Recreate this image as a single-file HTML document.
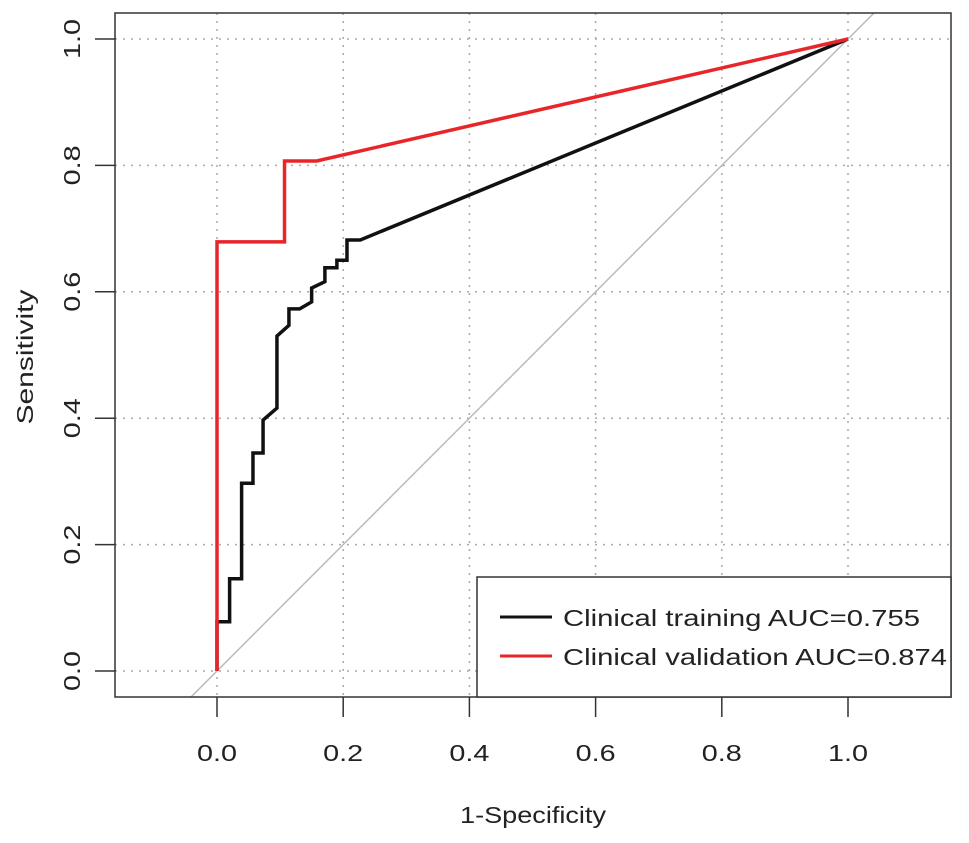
<!DOCTYPE html>
<html><head><meta charset="utf-8"><style>
html,body{margin:0;padding:0;background:#fff;}
svg{display:block;font-family:"Liberation Sans",Arial,sans-serif;}
</style></head><body>
<svg id="chart" width="969" height="843">
<defs><clipPath id="clip"><rect x="115" y="13" width="836" height="684"/></clipPath></defs>
<g id="grid"></g>
<line x1="0" y1="0" x2="0" y2="0" id="diag" stroke="#bbb" stroke-width="1.5" clip-path="url(#clip)"/>
<g id="series"></g>
<rect x="115" y="13" width="836" height="684" fill="none" stroke="#333" stroke-width="1.5"/>
<g id="axes"></g>
<text x="533" y="823" text-anchor="middle" font-size="23" textLength="146" lengthAdjust="spacingAndGlyphs" fill="#222">1-Specificity</text>
<text transform="translate(33,357) rotate(-90)" text-anchor="middle" font-size="23" textLength="135" lengthAdjust="spacingAndGlyphs" fill="#222">Sensitivity</text>
<g>
<rect x="477" y="577" width="474" height="120" fill="#fff" stroke="#333" stroke-width="1.5"/>
<line x1="500" y1="617" x2="552" y2="617" stroke="#111" stroke-width="3"/>
<text x="563" y="626" font-size="23" textLength="357" lengthAdjust="spacingAndGlyphs" fill="#222">Clinical training AUC=0.755</text>
<line x1="500" y1="656" x2="552" y2="656" stroke="#e8262a" stroke-width="3"/>
<text x="563" y="665" font-size="23" textLength="384" lengthAdjust="spacingAndGlyphs" fill="#222">Clinical validation AUC=0.874</text>
</g>
</svg>
<script>
const xTicks=[0,0.2,0.4,0.6,0.8,1.0];
const xTickLabels=["0.0","0.2","0.4","0.6","0.8","1.0"];
const yTicks=[0,0.2,0.4,0.6,0.8,1.0];
const yTickLabels=["0.0","0.2","0.4","0.6","0.8","1.0"];
const trainFpr=[0,0,0.02,0.02,0.039,0.039,0.057,0.057,0.073,0.073,0.095,0.095,0.114,0.114,0.131,0.150,0.150,0.171,0.171,0.19,0.19,0.206,0.206,0.227,1];
const trainTpr=[0,0.078,0.078,0.146,0.146,0.297,0.297,0.345,0.345,0.397,0.416,0.530,0.547,0.573,0.573,0.584,0.606,0.616,0.638,0.638,0.650,0.650,0.682,0.682,1];
const validFpr=[0,0,0.107,0.107,0.158,1];
const validTpr=[0,0.679,0.679,0.807,0.807,1];
const NS="http://www.w3.org/2000/svg";
const X=v=>217+v*631, Y=v=>671-v*632;
function mk(t,a,p){const e=document.createElementNS(NS,t);for(const k in a)e.setAttribute(k,a[k]);p.appendChild(e);return e;}
const grid=document.getElementById('grid'),axes=document.getElementById('axes'),ser=document.getElementById('series');
xTicks.forEach((v,i)=>{
 const g=mk('line',{x1:X(v),x2:X(v),y1:13,y2:697,stroke:'#aaa','stroke-width':1.5,'stroke-dasharray':'2 6'},grid);
 
 
 const t=mk('line',{x1:X(v),x2:X(v),y1:697,y2:717,stroke:'#333','stroke-width':1.5},axes);
 
 
 const l=mk('text',{x:X(v),y:761,'text-anchor':'middle','font-size':23,textLength:40,lengthAdjust:'spacingAndGlyphs',fill:'#222'},axes);
 l.textContent=xTickLabels[i];
 
 
});
yTicks.forEach((v,i)=>{
 const g=mk('line',{x1:115,x2:951,y1:Y(v),y2:Y(v),stroke:'#aaa','stroke-width':1.5,'stroke-dasharray':'2 6'},grid);
 
 
 const t=mk('line',{x1:95,x2:115,y1:Y(v),y2:Y(v),stroke:'#333','stroke-width':1.5},axes);
 
 
 const l=mk('text',{transform:`translate(80,${Y(v)}) rotate(-90)`,'text-anchor':'middle','font-size':23,textLength:40,lengthAdjust:'spacingAndGlyphs',fill:'#222'},axes);
 l.textContent=yTickLabels[i];
 
 
});
const d=document.getElementById('diag');
d.setAttribute('x1',X(-0.2));d.setAttribute('y1',Y(-0.2));d.setAttribute('x2',X(1.2));d.setAttribute('y2',Y(1.2));
function path(xs,ys,c,name){
 const p=mk('polyline',{points:xs.map((v,i)=>X(v)+','+Y(ys[i])).join(' '),fill:'none',stroke:c,'stroke-width':3.5,'stroke-linejoin':'miter'},ser);
 
 
}
path(trainFpr,trainTpr,'#111','training-roc-curve');
path(validFpr,validTpr,'#e8262a','validation-roc-curve');
</script>
</body></html>
